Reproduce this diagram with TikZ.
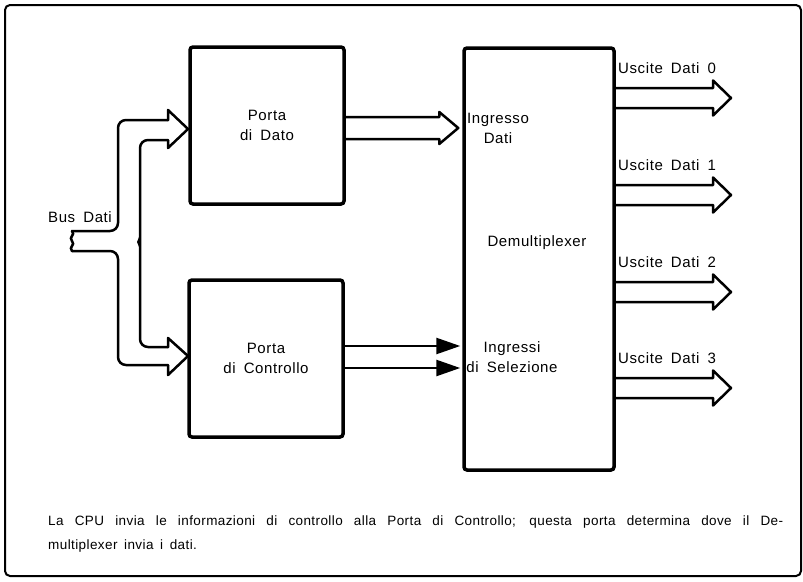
\documentclass[tikz,border=0pt]{standalone}
\usepackage{fontspec}
\setmainfont{Liberation Sans}[LetterSpace=4,WordSpace=1.7]
\newfontfamily\capfont{Liberation Sans}[LetterSpace=3,WordSpace=1.6]
\usetikzlibrary{arrows.meta,calc}
\newcommand\fatarrow[5]{%
  \draw[fat] let \p1=(#1), \p2=(#2) in
    (\x1,\y1+#3) -- (\x2-#5,\y1+#3) -- (\x2-#5,\y1+#4) -- (\x2,\y2)
    -- (\x2-#5,\y1-#4) -- (\x2-#5,\y1-#3) -- (\x1,\y1-#3);}
\begin{document}
\begin{tikzpicture}[x=1pt,y=-1pt,
  blk/.style={draw,line width=3.5pt,rounded corners=3pt,inner sep=0pt,align=center,font=\fontsize{15}{20}\selectfont},
  lbl/.style={font=\fontsize{15}{20}\selectfont,align=center,inner sep=0pt},
  fat/.style={line width=2.5pt,line join=round,line cap=round},
  ctl/.style={line width=2.5pt,-{Triangle[length=24pt,width=16pt]},shorten >=2pt},
  caption/.style={font=\capfont\fontsize{13.5}{24}\selectfont,inner sep=0pt,anchor=base west}]
\useasboundingbox (0,0) rectangle (803,581);
\draw[line width=2pt,rounded corners=5pt] (5,5) rectangle (801,576);

% blocks
\node[blk,minimum width=154pt,minimum height=157pt] (pd) at (267,125.5) {Porta\\di Dato};
\node[blk,minimum width=154pt,minimum height=157pt] (pc) at (266,358.5) {Porta\\di Controllo};
\node[blk,minimum width=150pt,minimum height=422pt] (dm) at (539,259) {};

% labels inside demultiplexer
\node[lbl] (ind) at (498,128) {Ingresso\\Dati};
\node[lbl] (dmx) at (537,243) {Demultiplexer};
\node[lbl] (isel) at (512,357) {Ingressi\\di Selezione};

% bus label
\node[lbl] (bus) at (80,217) {Bus Dati};

% bus dati split into two fat arrows
\draw[fat,rounded corners=8pt] (72,231) -- (118,231) -- (118,120) -- (168,120);
\draw[fat] (168,120) -- (168,110) -- (188,129) -- (168,148) -- (168,140);
\draw[fat,rounded corners=8pt] (168,140) -- (140,140) -- (140,347) -- (168,347);
\draw[line width=1.8pt] (140,237) -- (138,242) -- (140,247);
\draw[fat] (168,347) -- (168,338) -- (188,356) -- (168,375) -- (168,365);
\draw[fat,rounded corners=8pt] (168,365) -- (118,365) -- (118,251) -- (72,251);
\draw[fat] (72,251) .. controls (68,247) and (76,245) .. (72,241)
           .. controls (68,237) and (76,235) .. (72,231);

% porta di dato -> ingresso dati
\coordinate (pdo) at ($(pd.east)+(0,2.5)$);
\coordinate (pdtip) at (dm.west |- pdo);
\fatarrow{pdo}{$(pdtip)+(-4,0)$}{11pt}{16pt}{19pt}

% control lines
\draw[ctl] ($(pc.east)+(0,-12.5)$) -- ($(dm.west |- pc.east)+(0,-12.5)$);
\draw[ctl] ($(pc.east)+(0,9.5)$) -- ($(dm.west |- pc.east)+(0,9.5)$);

% outputs
\foreach \i/\y in {0/98,1/195,2/292,3/388}{
  \coordinate (o\i) at (dm.east |- 0,\y);
  \coordinate (t\i) at (731,\y);
  \fatarrow{o\i}{t\i}{10pt}{17.5pt}{18pt}
  \node[lbl,anchor=west] (u\i) at (618,\y-30) {Uscite Dati \i};
}

% caption
\node[caption] (c1) at (48,525) {\makebox[735pt][s]{La CPU invia le informazioni di controllo alla Porta di Controllo; questa porta determina dove il De-}};
\node[caption] (c2) at (48,549) {multiplexer invia i dati.};
\end{tikzpicture}
\end{document}
